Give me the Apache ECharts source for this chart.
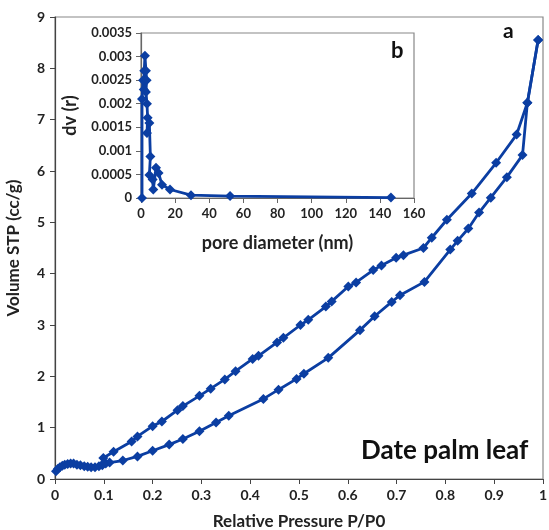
<!DOCTYPE html>
<html>
<head>
<meta charset="utf-8">
<script src="https://cdn.jsdelivr.net/npm/echarts@6/dist/echarts.min.js"></script>
<style>html,body{margin:0;padding:0;background:#fff}#c{width:549px;height:530px}</style>
</head>
<body>
<div id="c"></div>
<script>
// Main isotherm: adsorption branch (P/P0, volume)
var adsP = [0.002,0.006,0.01,0.015,0.02,0.026,0.032,0.038,0.045,0.052,0.06,0.067,0.074,0.082,0.09,0.097,0.104,0.112,0.139,0.169,0.2,0.234,0.262,0.296,0.33,0.356,0.427,0.458,0.495,0.51,0.56,0.625,0.655,0.69,0.707,0.757,0.81,0.825,0.847,0.869,0.893,0.926,0.958,0.968,0.99];
var adsV = [0.15,0.2,0.23,0.26,0.28,0.29,0.3,0.3,0.28,0.27,0.25,0.24,0.23,0.23,0.25,0.27,0.3,0.32,0.36,0.44,0.55,0.67,0.78,0.93,1.1,1.23,1.56,1.74,1.95,2.05,2.36,2.9,3.17,3.45,3.58,3.84,4.47,4.64,4.88,5.19,5.48,5.88,6.31,7.33,8.55];
// desorption branch
var desP = [0.99,0.968,0.946,0.904,0.854,0.803,0.772,0.755,0.714,0.699,0.669,0.652,0.617,0.601,0.567,0.555,0.519,0.503,0.468,0.455,0.417,0.405,0.37,0.348,0.319,0.296,0.262,0.251,0.219,0.2,0.169,0.157,0.12,0.099,0.099];
var desV = [8.55,7.33,6.71,6.16,5.56,5.05,4.70,4.5,4.36,4.31,4.16,4.07,3.83,3.75,3.46,3.36,3.1,3.0,2.75,2.66,2.4,2.34,2.1,1.94,1.76,1.62,1.42,1.34,1.12,1.03,0.83,0.73,0.53,0.41,0.3];
// Inset: pore size distribution
var poreD = [0.6,0.6,1.2,1.6,1.9,2.3,2.9,3.3,2.9,3.5,3.9,3.5,4.9,5.5,4.9,6.8,7.2,8.8,10.3,12.3,17,29.3,52.2,146.5];
var poreV = [0,0.0021,0.0025,0.0023,0.0027,0.00302,0.0027,0.0025,0.00225,0.002,0.0017,0.00138,0.00159,0.00088,0.00049,0.00039,0.00018,0.00064,0.00053,0.00028,0.00018,0.00006,0.00004,0.00001];

var mainX = [0,0.1,0.2,0.3,0.4,0.5,0.6,0.7,0.8,0.9,1];
var mainY = [0,1,2,3,4,5,6,7,8,9];

function zip(a,b){return a.map(function(v,i){return [v,b[i]];});}
var BLUE = '#0b3ea2';
var FONT = 'Lato';
var lbl = {fontFamily:FONT,fontWeight:'bold',fontSize:14,color:'#222'};
var lblS = {fontFamily:FONT,fontWeight:'bold',fontSize:13,color:'#222'};

var chart = echarts.init(document.getElementById('c'));
chart.setOption({
  animation:false,
  backgroundColor:'#fff',
  grid:[
    {left:55,top:17,width:488,height:462,show:true,borderColor:'#888',borderWidth:1.2,containLabel:false,outerBoundsMode:'none'},
    {left:141,top:33,width:273,height:165,show:true,borderColor:'#888',borderWidth:1.2,backgroundColor:'#fff',z:5,containLabel:false,outerBoundsMode:'none'}
  ],
  xAxis:[
    {gridIndex:0,type:'value',min:0,max:1,interval:0.1,
     name:'Relative Pressure P/P0',nameLocation:'middle',nameGap:34,
     nameTextStyle:{fontFamily:FONT,fontWeight:'bold',fontSize:17,color:'#222'},
     axisLine:{lineStyle:{color:'#444',width:1.2}},axisTick:{length:5,lineStyle:{color:'#444'}},
     axisLabel:Object.assign({margin:9,formatter:function(v){return String(Math.round(v*10)/10);}},lbl),
     splitLine:{show:false}},
    {gridIndex:1,type:'value',min:0,max:160,interval:20,
     name:'pore diameter (nm)',nameLocation:'middle',nameGap:36,
     nameTextStyle:{fontFamily:FONT,fontWeight:'bold',fontSize:18,color:'#222'},
     axisLine:{lineStyle:{color:'#666',width:1.2}},axisTick:{length:5,lineStyle:{color:'#666'}},
     axisLabel:Object.assign({margin:9},lblS),splitLine:{show:false},z:6}
  ],
  yAxis:[
    {gridIndex:0,type:'value',min:0,max:9,interval:1,
     name:'Volume STP (cc/g)',nameLocation:'middle',nameGap:33,
     nameTextStyle:{fontFamily:FONT,fontWeight:'bold',fontSize:17,color:'#222'},
     axisLine:{lineStyle:{color:'#444',width:1.2}},axisTick:{length:5,lineStyle:{color:'#444'}},
     axisLabel:Object.assign({margin:10},lbl),splitLine:{show:false}},
    {gridIndex:1,type:'value',min:0,max:0.0035,interval:0.0005,
     name:'dv (r)',nameLocation:'middle',nameGap:62,
     nameTextStyle:{fontFamily:FONT,fontWeight:'bold',fontSize:18,color:'#222'},
     axisLine:{lineStyle:{color:'#666',width:1.2}},axisTick:{length:5,lineStyle:{color:'#666'}},
     axisLabel:Object.assign({margin:9},lblS),splitLine:{show:false},z:6}
  ],
  series:[
    {type:'line',xAxisIndex:0,yAxisIndex:0,data:zip(adsP,adsV),symbol:'diamond',symbolSize:10,
     lineStyle:{color:BLUE,width:2.8},itemStyle:{color:BLUE},z:2},
    {type:'line',xAxisIndex:0,yAxisIndex:0,data:zip(desP,desV),symbol:'diamond',symbolSize:10,
     lineStyle:{color:BLUE,width:2.8},itemStyle:{color:BLUE},z:2},
    {type:'line',xAxisIndex:1,yAxisIndex:1,data:zip(poreD,poreV),symbol:'diamond',symbolSize:10,
     lineStyle:{color:BLUE,width:2.8},itemStyle:{color:BLUE},z:7}
  ],
  graphic:[
    {type:'text',left:503,top:21,style:{text:'a',font:'bold 21px Lato',fill:'#111'},z:10},
    {type:'text',left:391,top:40,style:{text:'b',font:'bold 22px Lato',fill:'#111'},z:10},
    {type:'text',left:361,top:438,style:{text:'Date palm leaf',font:'bold 26px Lato',fill:'#111'},z:10}
  ]
});
</script>
</body>
</html>
